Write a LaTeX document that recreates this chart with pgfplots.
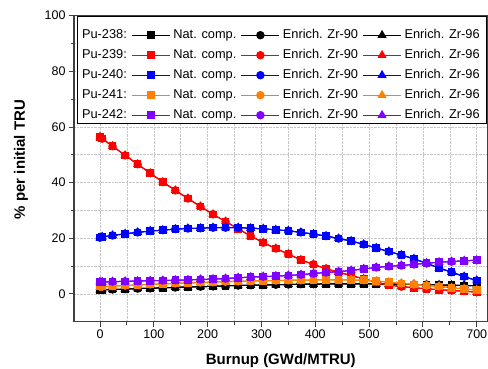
\documentclass[border=0pt]{standalone}
\usepackage{pgfplots}
\pgfplotsset{compat=1.18}
\usepackage{pgfplotstable}
\usepackage{fontspec}
\setmainfont{Liberation Sans}
\definecolor{cOr}{RGB}{255,128,0}
\definecolor{cPu}{RGB}{128,0,255}

% Pu-238
\pgfplotstableread{
x y
0 1.5
4 1.5
23.3 1.6
46.7 1.7
70 1.9
93.3 2.0
116.7 2.2
140 2.3
163.3 2.5
186.7 2.6
210 2.7
233.3 2.9
256.7 3.0
280 3.1
303.3 3.2
326.7 3.3
350 3.4
373.3 3.5
396.7 3.5
420 3.6
443.3 3.6
466.7 3.6
490 3.6
513.3 3.6
536.7 3.5
560 3.5
583.3 3.4
606.7 3.3
630 3.2
653.3 3.1
676.7 3.0
700 2.9
}\tabA
% Pu-239
\pgfplotstableread{
x y
0 56.4
4 55.8
23.3 53.1
46.7 49.8
70 46.6
93.3 43.4
116.7 40.2
140 37.2
163.3 34.3
186.7 31.4
210 28.6
233.3 26.0
256.7 23.4
280 20.8
303.3 18.4
326.7 16.3
350 14.3
373.3 12.2
396.7 10.6
420 9.0
443.3 7.8
466.7 6.6
490 5.4
513.3 4.2
536.7 3.2
560 2.6
583.3 2.2
606.7 1.8
630 1.5
653.3 1.2
676.7 1.0
700 0.6
}\tabB
% Pu-240
\pgfplotstableread{
x y
0 20.2
4 20.5
23.3 21.0
46.7 21.6
70 22.1
93.3 22.6
116.7 22.9
140 23.3
163.3 23.5
186.7 23.6
210 23.8
233.3 23.8
256.7 23.8
280 23.6
303.3 23.4
326.7 23.0
350 22.7
373.3 22.1
396.7 21.5
420 20.8
443.3 19.9
466.7 19.0
490 17.8
513.3 16.5
536.7 15.2
560 14.0
583.3 12.6
606.7 11.0
630 9.3
653.3 7.8
676.7 6.2
700 4.8
}\tabC
% Pu-241
\pgfplotstableread{
x y
0 2.6
4 2.6
23.3 2.8
46.7 3.0
70 3.2
93.3 3.4
116.7 3.6
140 3.8
163.3 3.9
186.7 4.1
210 4.2
233.3 4.4
256.7 4.5
280 4.6
303.3 4.7
326.7 4.8
350 4.9
373.3 4.9
396.7 5.0
420 5.0
443.3 5.0
466.7 5.0
490 4.9
513.3 4.6
536.7 4.2
560 3.8
583.3 3.4
606.7 3.0
630 2.7
653.3 2.2
676.7 1.8
700 1.4
}\tabD
% Pu-242
\pgfplotstableread{
x y
0 4.3
4 4.3
23.3 4.4
46.7 4.5
70 4.6
93.3 4.7
116.7 4.8
140 4.9
163.3 5.0
186.7 5.2
210 5.3
233.3 5.5
256.7 5.8
280 6.0
303.3 6.2
326.7 6.4
350 6.6
373.3 6.9
396.7 7.3
420 7.7
443.3 8.0
466.7 8.4
490 9.0
513.3 9.5
536.7 9.9
560 10.2
583.3 10.6
606.7 11.0
630 11.4
653.3 11.6
676.7 11.9
700 12.1
}\tabE

\pgfplotsset{
  nat/.style={mark=square*, mark size=3.3pt, line width=1pt},
  zr90/.style={mark=*, mark size=3.7pt, line width=1pt},
  zr96/.style={mark=triangle*, mark size=4.3pt, line width=1pt},
}

\begin{document}
\begin{tikzpicture}
\useasboundingbox (-74pt,-47.3pt) rectangle (414pt,321.7pt);
\begin{axis}[
  scale only axis, width=413.5pt, height=306pt,
  xmin=-48.3, xmax=720, ymin=-10, ymax=100,
  xtick={0,100,...,700}, ytick={0,20,...,100},
  minor x tick num=1, minor y tick num=1,
  xtick pos=bottom, ytick pos=left, tick align=outside,
  major tick length=5pt, minor tick length=3pt,
  grid=both,
  major grid style={densely dotted, black!22, line width=0.6pt},
  minor grid style={densely dotted, black!22, line width=0.6pt},
  axis line style={black!75, line width=1.1pt},
  every tick/.style={black!75, line width=0.9pt},
  tick label style={font=\fontsize{12.5}{14}\selectfont},
  /pgf/number format/assume math mode=true,
  xlabel={Burnup (GWd/MTRU)},
  ylabel={\% per initial TRU},
  label style={font=\fontsize{15}{17}\selectfont\bfseries},
  xlabel style={at={(axis description cs:0.5,-0.128)}, anchor=center},
  ylabel style={at={(axis description cs:-0.128,0.53)}, anchor=center},
  legend columns=4,
  legend cell align=left,
  legend style={at={(rel axis cs:0.008,0.9655)}, anchor=north west,
    draw=none, fill=none, inner xsep=1.5pt, inner ysep=1.5pt,
    font=\fontsize{12.8}{15}\selectfont,
    nodes={inner sep=1pt, text height=9.5pt, text depth=3pt},
    column sep=2pt, row sep=5.5pt,
    /tikz/every even column/.append style={column sep=3.5pt}},
  legend image code/.code={\draw[mark repeat=2,mark phase=2] plot coordinates {(0pt,0pt) (19pt,0pt) (38pt,0pt)};},
]
\draw[black, line width=0.9pt, fill=white] (rel axis cs:0.008,0.6484) rectangle (rel axis cs:0.998,0.9967);

\addlegendimage{empty legend}\addlegendentry{Pu-238:}
\addplot[black, nat] table[x=x,y=y]{\tabA}; \addlegendentry{Nat. comp.}
\addplot[black, zr90] table[x=x,y=y]{\tabA}; \addlegendentry{Enrich. Zr-90}
\addplot[black, zr96] table[x=x,y=y]{\tabA}; \addlegendentry{Enrich. Zr-96}

\addlegendimage{empty legend}\addlegendentry{Pu-239:}
\addplot[red, nat] table[x=x,y=y]{\tabB}; \addlegendentry{Nat. comp.}
\addplot[red, zr90] table[x=x,y=y]{\tabB}; \addlegendentry{Enrich. Zr-90}
\addplot[red, zr96] table[x=x,y=y]{\tabB}; \addlegendentry{Enrich. Zr-96}

\addlegendimage{empty legend}\addlegendentry{Pu-240:}
\addplot[blue, nat] table[x=x,y=y]{\tabC}; \addlegendentry{Nat. comp.}
\addplot[blue, zr90] table[x=x,y=y]{\tabC}; \addlegendentry{Enrich. Zr-90}
\addplot[blue, zr96] table[x=x,y=y]{\tabC}; \addlegendentry{Enrich. Zr-96}

\addlegendimage{empty legend}\addlegendentry{Pu-241:}
\addplot[cOr, nat] table[x=x,y=y]{\tabD}; \addlegendentry{Nat. comp.}
\addplot[cOr, zr90] table[x=x,y=y]{\tabD}; \addlegendentry{Enrich. Zr-90}
\addplot[cOr, zr96] table[x=x,y=y]{\tabD}; \addlegendentry{Enrich. Zr-96}

\addlegendimage{empty legend}\addlegendentry{Pu-242:}
\addplot[cPu, nat] table[x=x,y=y]{\tabE}; \addlegendentry{Nat. comp.}
\addplot[cPu, zr90] table[x=x,y=y]{\tabE}; \addlegendentry{Enrich. Zr-90}
\addplot[cPu, zr96] table[x=x,y=y]{\tabE}; \addlegendentry{Enrich. Zr-96}
\end{axis}
\end{tikzpicture}
\end{document}
